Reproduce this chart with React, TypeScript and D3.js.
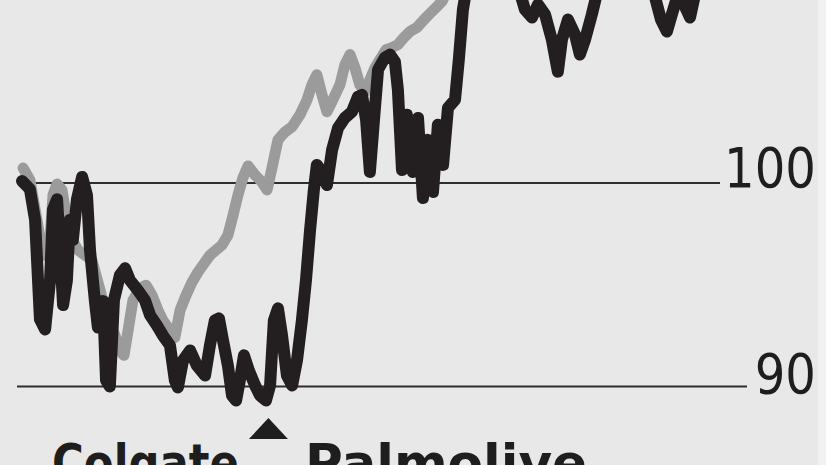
import React from "react";
import * as d3 from "d3";

// Trading-day index and indexed value (start = 100)
const blackDays = [0, 2.9, 4.8, 6.6, 8.5, 10.3, 11.4, 12.9, 14.0, 15.1, 16.5, 17.6, 18.7, 20.2, 22.1, 23.9, 25.0, 26.8, 27.9, 29.8, 30.9, 32.3, 33.8, 36.0, 37.9, 39.7, 42.6, 45.2, 47.1, 49.6, 51.8, 54.4, 56.2, 57.3, 59.2, 61.8, 64.3, 67.3, 69.1, 70.9, 72.4, 73.9, 75.7, 77.2, 78.7, 80.1, 81.6, 83.4, 85.7, 87.5, 89.7, 91.2, 92.6, 94.1, 95.6, 97.4, 99.3, 101.1, 102.9, 104.4, 105.9, 107.3, 108.4, 110.3, 112.1, 114.0, 116.2, 118.7, 121.3, 123.5, 125.0, 126.5, 127.9, 129.4, 130.9, 133.4, 135.3, 137.1, 138.2, 139.7, 141.5, 143.7, 145.6, 147.4, 149.2, 151.1, 152.9, 154.8, 156.6, 159.2, 160.6, 162.1, 164.0, 172.0, 181.2, 184.9, 187.5, 189.7, 192.3, 194.8, 197.0, 198.5, 200.7, 203.3, 205.1, 207.0, 209.5, 211.7, 218.0, 229.0, 232.7, 234.9, 237.1, 238.9, 241.1, 243.4, 245.6, 247.0, 249.2];
const blackValues = [100.1, 99.7, 98.2, 93.3, 92.8, 95.2, 98.7, 99.2, 96.7, 94.0, 95.2, 98.2, 97.2, 99.2, 100.3, 99.4, 96.7, 94.2, 92.9, 94.2, 90.3, 90.0, 94.24, 95.47, 95.81, 95.22, 94.73, 94.24, 93.5, 93.0, 92.51, 92.02, 90.3, 89.95, 91.28, 91.77, 91.03, 90.54, 92.02, 93.25, 93.35, 92.27, 91.03, 89.56, 89.31, 90.3, 91.53, 90.79, 90.05, 89.56, 89.31, 90.05, 93.25, 93.84, 92.51, 90.54, 90.05, 91.28, 93.25, 95.22, 97.68, 99.66, 100.89, 100.54, 99.9, 101.63, 102.71, 103.2, 103.5, 104.24, 104.33, 103.1, 100.54, 103.1, 105.57, 106.16, 106.31, 105.96, 104.58, 100.64, 103.35, 100.54, 103.2, 99.26, 102.12, 99.56, 102.86, 100.89, 103.69, 104.09, 106.06, 108.52, 110.0, 111.5, 110.2, 108.52, 108.13, 108.77, 108.28, 107.04, 105.47, 107.04, 108.03, 107.29, 106.31, 107.04, 108.28, 109.5, 111.0, 110.2, 109.15, 108.03, 107.44, 108.28, 109.25, 108.77, 108.13, 109.0, 110.0];

const grayDays = [0.4, 2.9, 5.5, 7.7, 9.9, 11.4, 12.9, 14.7, 16.2, 18.4, 20.6, 23.2, 25.7, 28.7, 31.6, 34.2, 36.0, 37.5, 39.0, 40.8, 43.4, 45.6, 47.8, 50.0, 51.8, 54.4, 56.2, 58.1, 60.3, 62.5, 64.7, 67.3, 69.1, 71.3, 73.5, 75.7, 77.6, 79.4, 81.2, 83.1, 85.7, 88.2, 90.1, 91.9, 94.1, 96.7, 99.3, 102.2, 104.8, 106.6, 108.4, 110.3, 112.1, 114.3, 116.9, 118.7, 120.6, 122.4, 124.2, 126.1, 127.9, 129.8, 131.6, 133.8, 136.0, 138.2, 140.4, 142.6, 145.2, 147.8, 150.0, 152.2, 154.4, 156.6, 164.7, 183.1, 205.1, 227.2, 249.2];
const grayValues = [100.74, 100.15, 98.18, 96.45, 96.45, 99.41, 99.95, 99.66, 98.42, 97.19, 96.7, 96.45, 96.21, 94.73, 93.25, 92.51, 91.77, 91.53, 92.76, 94.24, 94.83, 94.98, 94.48, 93.74, 93.25, 92.76, 92.41, 93.74, 94.48, 95.12, 95.62, 96.11, 96.45, 96.7, 96.95, 97.44, 98.42, 99.41, 100.25, 100.84, 100.39, 100.05, 99.66, 100.74, 102.12, 102.51, 102.76, 103.35, 104.09, 104.83, 105.32, 104.33, 103.5, 104.09, 104.83, 105.81, 106.31, 105.67, 104.83, 104.48, 105.07, 105.67, 106.06, 106.55, 106.65, 106.8, 107.14, 107.44, 107.64, 108.03, 108.33, 108.62, 108.92, 109.5, 111.0, 112.0, 112.5, 113.0, 113.2];

const tickValues = [100, 90];
const tickLabels = ["100", "90"];
const markerDay = 90.6;
const titleParts = ["Colgate", "Palmolive"];

const W = 826;
const H = 465;

export default function App() {
  const x = d3.scaleLinear().domain([0, 250]).range([22, 702]);
  const y = d3.scaleLinear().domain([90, 100]).range([386.5, 183]);

  const line = d3
    .line<[number, number]>()
    .x((d) => x(d[0]))
    .y((d) => y(d[1]))
    .curve(d3.curveLinear);

  const black: [number, number][] = blackDays.map((d, i) => [d, blackValues[i]]);
  const gray: [number, number][] = grayDays.map((d, i) => [d, grayValues[i]]);

  const gridEnds = [720, 747];
  const labelBaseOffset = [4, 6];

  const mx = x(markerDay);

  return (
    <svg
      width={W}
      height={H}
      style={{ position: "absolute", left: 0, top: 0, display: "block" }}
    >
      <rect x={0} y={0} width={W} height={H} fill="#e8e8e8" />
      <rect x={818} y={0} width={W - 818} height={H} fill="#f1f1f1" />
      {tickValues.map((t, i) => (
        <line
          key={"g" + t}
          x1={17}
          x2={gridEnds[i]}
          y1={y(t)}
          y2={y(t)}
          stroke="#2e2e2e"
          strokeWidth={2}
        />
      ))}
      {tickValues.map((t, i) => (
        <text
          key={"l" + t}
          transform={`translate(816,${y(t) + labelBaseOffset[i]}) scale(0.86,1)`}
          textAnchor="end"
          fontFamily="DejaVu Sans, sans-serif"
          fontSize={56}
          fill="#1e1e1e"
        >
          {tickLabels[i]}
        </text>
      ))}
      <path
        d={line(gray) || ""}
        fill="none"
        stroke="#9b9b9b"
        strokeWidth={11}
        strokeLinejoin="round"
        strokeLinecap="round"
      />
      <path
        d={line(black) || ""}
        fill="none"
        stroke="#231f20"
        strokeWidth={12}
        strokeLinejoin="round"
        strokeLinecap="round"
      />
      <path
        d={`M${mx - 19.5},439 L${mx + 19.5},439 L${mx},418 Z`}
        fill="#1e1e1e"
      />
      <text
        x={52}
        y={481}
        fontFamily="DejaVu Sans, sans-serif"
        fontWeight="bold"
        fontSize={52}
        fill="#1e1e1e"
        textLength={187}
        lengthAdjust="spacingAndGlyphs"
      >
        {titleParts[0]}
      </text>
      <text
        x={305}
        y={481}
        fontFamily="DejaVu Sans, sans-serif"
        fontWeight="bold"
        fontSize={52}
        fill="#1e1e1e"
        textLength={282}
        lengthAdjust="spacingAndGlyphs"
      >
        {titleParts[1]}
      </text>
    </svg>
  );
}
